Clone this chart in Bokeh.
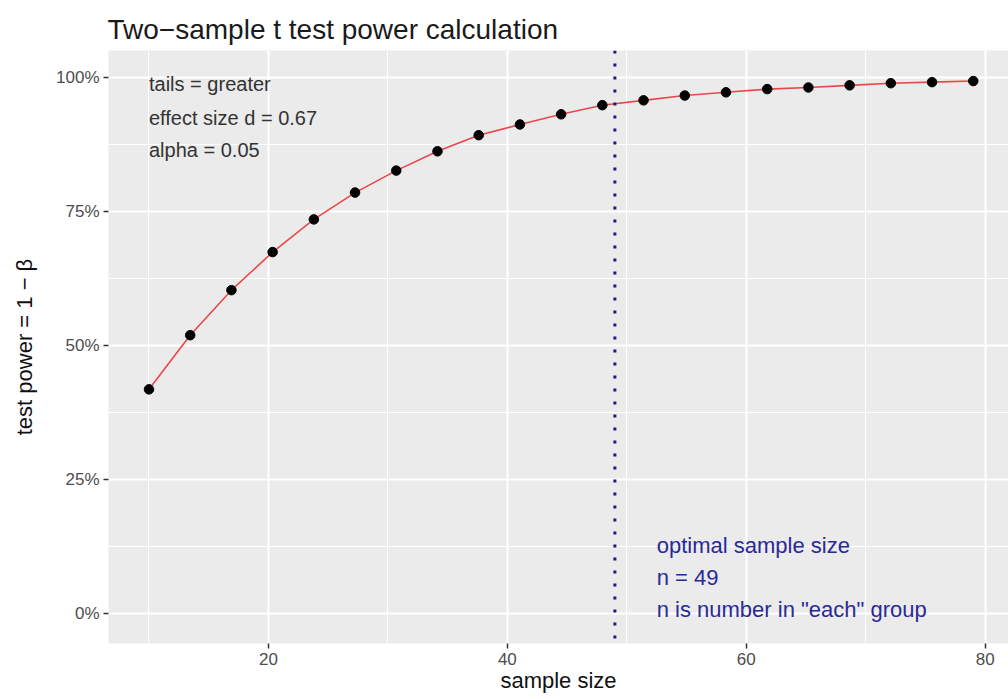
from bokeh.plotting import figure
from bokeh.models import Range1d, FixedTicker, NumeralTickFormatter, ColumnDataSource, Span
from bokeh.core.properties import value
from bokeh.embed import file_html
from bokeh.resources import INLINE

# ---- data ----
sample_size = [10.0, 13.45, 16.9, 20.35, 23.8, 27.25, 30.7, 34.15, 37.6, 41.05, 44.5,
               47.95, 51.4, 54.85, 58.3, 61.75, 65.2, 68.65, 72.1, 75.55, 79.0]
power = [0.418, 0.519, 0.603, 0.674, 0.735, 0.785, 0.826, 0.862, 0.892, 0.912, 0.931,
         0.948, 0.957, 0.966, 0.972, 0.978, 0.981, 0.985, 0.989, 0.991, 0.993]
optimal_n = 49
x_major_ticks = [20, 40, 60, 80]
x_minor_ticks = [10, 30, 50, 70]
y_major_ticks = [0.0, 0.25, 0.5, 0.75, 1.0]
y_minor_ticks = [0.125, 0.375, 0.625, 0.875]
info_lines = ["tails = greater", "effect size d = 0.67", "alpha = 0.05"]
info_x = [10, 10, 10]
info_y = [0.987, 0.925, 0.864]
opt_lines = ["optimal sample size", "n = 49", "n is number in \"each\" group"]
opt_x = [52.5, 52.5, 52.5]
opt_y = [0.127, 0.067, 0.008]

FONT = "Liberation Sans"

p = figure(width=1008, height=699, output_backend="svg", toolbar_location=None,
           x_range=Range1d(6.61, 81.95), y_range=Range1d(-0.056, 1.05),
           min_border_left=108, min_border_right=0, min_border_top=50, min_border_bottom=56,
           title="Two\u2212sample t test power calculation")

p.background_fill_color = "#EBEBEB"
p.border_fill_color = "white"
p.outline_line_color = None

p.title.text_font = FONT
p.title.text_font_size = "28px"
p.title.text_font_style = "normal"
p.title.text_color = "#1a1a1a"
p.title.offset = -1
p.title.standoff = 11

# axes
p.xaxis.ticker = FixedTicker(ticks=x_major_ticks, minor_ticks=x_minor_ticks)
p.yaxis.ticker = FixedTicker(ticks=y_major_ticks, minor_ticks=y_minor_ticks)
p.yaxis.formatter = NumeralTickFormatter(format="0%")
for ax in (p.xaxis[0], p.yaxis[0]):
    ax.axis_line_color = None
    ax.major_tick_line_color = "#333333"
    ax.major_tick_line_width = 1.5
    ax.major_tick_in = 0
    ax.major_tick_out = 5
    ax.minor_tick_line_color = None
    ax.major_label_text_font = FONT
    ax.major_label_text_font_size = "17px"
    ax.major_label_text_color = "#4D4D4D"
    ax.major_label_standoff = 4
    ax.axis_label_text_font = FONT
    ax.axis_label_text_font_size = "22px"
    ax.axis_label_text_font_style = "normal"
    ax.axis_label_text_color = "#111111"
p.xaxis.axis_label = "sample size"
p.yaxis.axis_label = "test power = 1 \u2212 \u03b2"
p.xaxis.axis_label_standoff = 0
p.yaxis.axis_label_standoff = 16

# grid
for g in (p.xgrid[0], p.ygrid[0]):
    g.grid_line_color = "white"
    g.grid_line_width = 2
    g.minor_grid_line_color = "white"
    g.minor_grid_line_width = 1

src = ColumnDataSource(data=dict(x=sample_size, y=power))
p.line("x", "y", source=src, line_color="#E8484A", line_width=1.6)
p.scatter("x", "y", source=src, size=9.5, fill_color="black", line_color="black")

vline = Span(location=optimal_n, dimension="height", line_color="#1A1A80",
             line_width=3, line_dash="3 10")
p.add_layout(vline)

info_src = ColumnDataSource(data=dict(x=info_x, y=info_y, t=info_lines))
p.text("x", "y", text="t", source=info_src, text_font=value(FONT), text_font_size="20px",
       text_color="#333333", text_align="left", text_baseline="middle")
opt_src = ColumnDataSource(data=dict(x=opt_x, y=opt_y, t=opt_lines))
p.text("x", "y", text="t", source=opt_src, text_font=value(FONT), text_font_size="22px",
       text_color="#2A2A96", text_align="left", text_baseline="middle")

open("out.html", "w").write(file_html(p, INLINE))
